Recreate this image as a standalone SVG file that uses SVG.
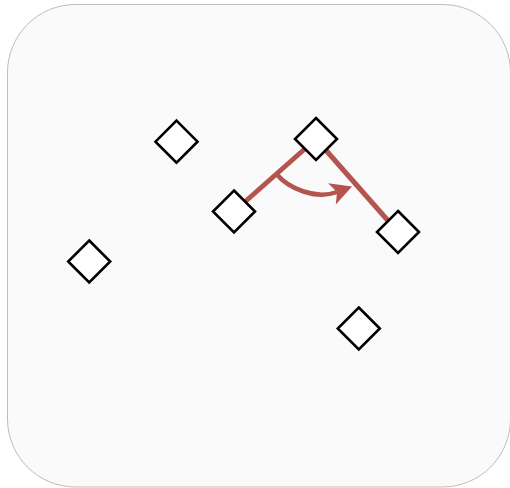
<svg xmlns="http://www.w3.org/2000/svg" width="510" height="488" viewBox="0 0 510 488">
  <style>
    .bg { fill: #fafafa; stroke: #bdbdbd; stroke-width: 1; }
    .node { fill: #ffffff; stroke: #000000; stroke-width: 2.6; stroke-linejoin: miter; }
    .edge { fill: none; stroke: #b5534f; stroke-width: 5; }
    .angle { fill: none; stroke: #b5534f; stroke-width: 4.5; }
  </style>
  <defs>
    <path id="dia" d="M0,-21 L21,0 L0,21 L-21,0 Z"/>
    <marker id="arrow" markerUnits="userSpaceOnUse" markerWidth="30" markerHeight="30" refX="5" refY="0" viewBox="-2 -14 28 28" orient="auto">
      <path d="M0,-10.5 L20,0 L0,10.5 L5,0 Z" fill="#b5534f"/>
    </marker>
  </defs>
  <rect class="bg" x="7.5" y="4.5" width="503" height="482.5" rx="68" ry="68"/>
  <g id="connectors">
    <line class="edge" x1="234" y1="211.5" x2="316" y2="139"/>
    <line class="edge" x1="316" y1="139" x2="398" y2="232"/>
    <path class="angle" d="M276.5,174 C288,188 315,200 337,192" marker-end="url(#arrow)"/>
  </g>
  <g id="n1"><use href="#dia" class="node" x="176.5" y="141.7"/></g>
  <g id="n2"><use href="#dia" class="node" x="89.2" y="261.5"/></g>
  <g id="n3"><use href="#dia" class="node" x="316" y="139"/></g>
  <g id="n4"><use href="#dia" class="node" x="234" y="211.5"/></g>
  <g id="n5"><use href="#dia" class="node" x="398" y="232"/></g>
  <g id="n6"><use href="#dia" class="node" x="358.8" y="328.5"/></g>
</svg>
